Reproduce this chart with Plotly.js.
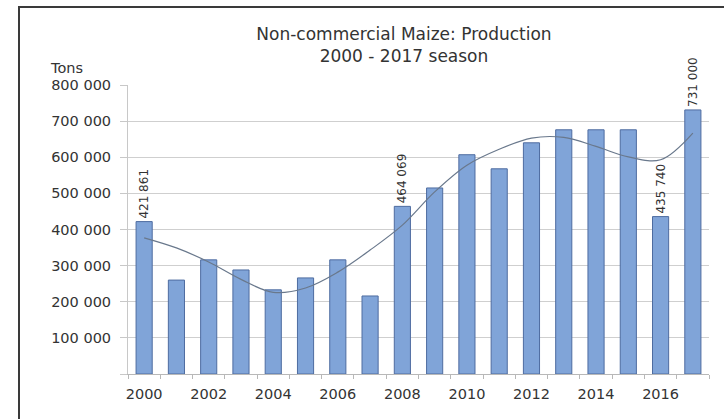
<!DOCTYPE html>
<html>
<head>
<meta charset="utf-8">
<script src="https://cdn.plot.ly/plotly-3.0.1.min.js"></script>
<style>
  html, body { margin: 0; padding: 0; background: #fff; }
  #wrap { position: relative; width: 724px; height: 419px; overflow: hidden; }
  #chart { position: absolute; left: 0; top: 0; width: 724px; height: 419px; }
  #frame { position: absolute; left: 18px; top: 6px; width: 720px; height: 430px;
           border-left: 2px solid #3a3a3a; border-top: 2px solid #3a3a3a; pointer-events: none; }
</style>
</head>
<body>
<div id="wrap">
  <div id="chart"></div>
  <div id="frame"></div>
</div>
<script>
// Data
const years = [2000, 2001, 2002, 2003, 2004, 2005, 2006, 2007, 2008, 2009,
               2010, 2011, 2012, 2013, 2014, 2015, 2016, 2017];
const production = [421861, 260000, 316000, 288000, 233000, 266000, 316000, 216000, 464069, 515000,
                    607000, 568000, 640000, 676000, 676000, 676000, 435740, 731000];
// Trend line (polynomial trend in the original) read at each season
const trend = [377000, 349000, 310000, 262000, 226000, 238000, 282000, 343000, 412000, 504000,
               578000, 622000, 653000, 655000, 630000, 601000, 593000, 667000];
const labelledYears = [2000, 2008, 2016, 2017];
const xTickYears = [2000, 2002, 2004, 2006, 2008, 2010, 2012, 2014, 2016];
const yTicks = [0, 100000, 200000, 300000, 400000, 500000, 600000, 700000, 800000];

function fmt(v) {
  return String(Math.round(v)).replace(/\B(?=(\d{3})+(?!\d))/g, ' ');
}
const barText = years.map((y, i) => labelledYears.includes(y) ? fmt(production[i]) : '');
const yTickText = yTicks.map(v => v === 0 ? '' : fmt(v));

const FONT = 'DejaVu Sans, Verdana, sans-serif';

const bars = {
  type: 'bar',
  x: years,
  y: production,
  width: 0.5,
  marker: { color: 'rgb(128,164,216)', line: { color: 'rgb(78,108,160)', width: 1 } },
  text: barText,
  textposition: 'outside',
  textangle: -90,
  constraintext: 'none',
  cliponaxis: false,
  textfont: { family: FONT, size: 12, color: '#333' },
  hoverinfo: 'x+y',
  showlegend: false
};

const trendLine = {
  type: 'scatter',
  mode: 'lines',
  x: years,
  y: trend,
  line: { shape: 'spline', smoothing: 1, color: 'rgb(105,120,140)', width: 1.2 },
  hoverinfo: 'skip',
  showlegend: false
};

const layout = {
  width: 724,
  height: 419,
  margin: { l: 128, r: 15, t: 85, b: 45 },
  paper_bgcolor: '#ffffff',
  plot_bgcolor: '#ffffff',
  font: { family: FONT, size: 14, color: '#333' },
  title: {
    text: 'Non-commercial Maize: Production<br>2000 - 2017 season',
    x: 0.558, xanchor: 'center',
    y: 0.904, yanchor: 'top',
    font: { family: FONT, size: 17, color: '#333' }
  },
  xaxis: {
    type: 'linear',
    range: [1999.5, 2017.5],
    tickvals: xTickYears,
    ticktext: xTickYears.map(String),
    ticks: '',
    showgrid: false,
    zeroline: false,
    showline: true,
    linecolor: '#b8b8b8',
    linewidth: 1,
    tickfont: { family: FONT, size: 14.5, color: '#333' },
    ticklabelstandoff: 7,
    minor: { tick0: 1999.5, dtick: 1, ticks: 'outside', ticklen: 4, tickcolor: '#b8b8b8', showgrid: false },
    fixedrange: true
  },
  yaxis: {
    range: [0, 800000],
    tickvals: yTicks,
    ticktext: yTickText,
    ticks: 'outside',
    ticklen: 7,
    tickcolor: '#c8c8c8',
    showgrid: true,
    gridcolor: '#cfcfcf',
    gridwidth: 1,
    zeroline: false,
    showline: true,
    linecolor: '#c8c8c8',
    tickfont: { family: FONT, size: 14.5, color: '#333' },
    ticklabelstandoff: 6,
    fixedrange: true
  },
  annotations: [{
    text: 'Tons',
    xref: 'paper', yref: 'paper',
    x: (48 - 128) / 581, y: (374 - 68) / 289,
    xanchor: 'left', yanchor: 'middle',
    showarrow: false,
    font: { family: FONT, size: 14.5, color: '#333' }
  }],
  bargap: 0.5
};

Plotly.newPlot('chart', [bars, trendLine], layout, { staticPlot: true, displayModeBar: false });
</script>
</body>
</html>
